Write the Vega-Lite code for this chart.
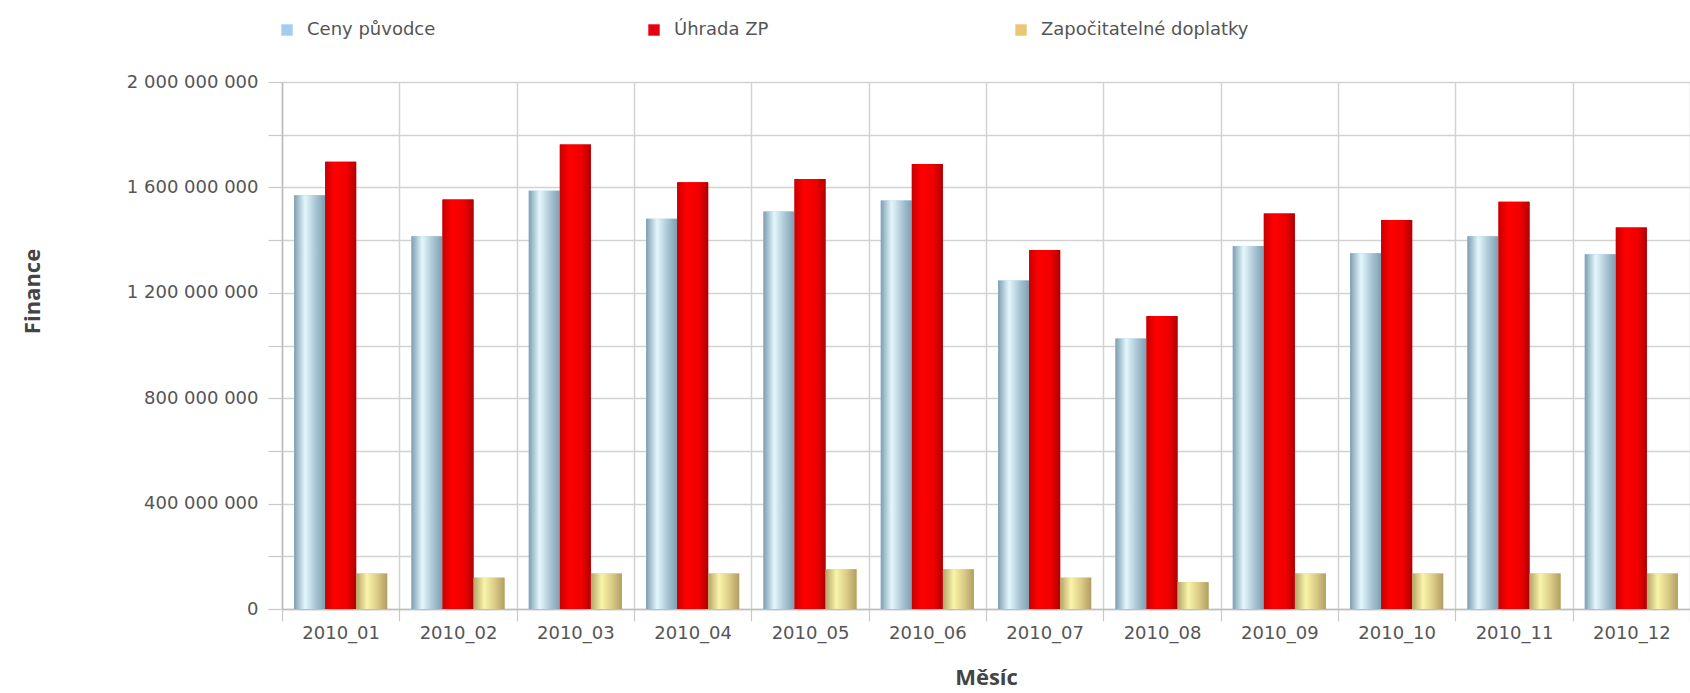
{
  "$schema": "https://vega.github.io/schema/vega-lite/v6.json",
  "autosize": {"type": "none"},
  "padding": {"left": 282, "top": 82, "right": 0, "bottom": 84},
  "width": 1408,
  "height": 527,
  "background": "white",
  "config": {
    "view": {"stroke": null},
    "font": "DejaVu Sans",
    "axis": {"labelFont": "DejaVu Sans", "labelFontSize": 18, "labelColor": "#555", "titleFont": "Open Sans", "titleFontWeight": "bold", "titleFontSize": 22, "titleColor": "#444", "gridColor": "#d2d2d2", "gridWidth": 1.5, "domainColor": "#bdbdbd", "domainWidth": 1.5, "tickColor": "#c8c8c8", "tickWidth": 1.2}
  },
  "data": {
    "values": [
      {"mesic": "2010_01", "serie": "Ceny původce", "hodnota": 1570000000},
      {"mesic": "2010_01", "serie": "Úhrada ZP", "hodnota": 1697000000},
      {"mesic": "2010_01", "serie": "Započitatelné doplatky", "hodnota": 135000000},
      {"mesic": "2010_02", "serie": "Ceny původce", "hodnota": 1415000000},
      {"mesic": "2010_02", "serie": "Úhrada ZP", "hodnota": 1554000000},
      {"mesic": "2010_02", "serie": "Započitatelné doplatky", "hodnota": 119000000},
      {"mesic": "2010_03", "serie": "Ceny původce", "hodnota": 1587000000},
      {"mesic": "2010_03", "serie": "Úhrada ZP", "hodnota": 1763000000},
      {"mesic": "2010_03", "serie": "Započitatelné doplatky", "hodnota": 135000000},
      {"mesic": "2010_04", "serie": "Ceny původce", "hodnota": 1481000000},
      {"mesic": "2010_04", "serie": "Úhrada ZP", "hodnota": 1620000000},
      {"mesic": "2010_04", "serie": "Započitatelné doplatky", "hodnota": 135000000},
      {"mesic": "2010_05", "serie": "Ceny původce", "hodnota": 1509000000},
      {"mesic": "2010_05", "serie": "Úhrada ZP", "hodnota": 1632000000},
      {"mesic": "2010_05", "serie": "Započitatelné doplatky", "hodnota": 151000000},
      {"mesic": "2010_06", "serie": "Ceny původce", "hodnota": 1550000000},
      {"mesic": "2010_06", "serie": "Úhrada ZP", "hodnota": 1689000000},
      {"mesic": "2010_06", "serie": "Započitatelné doplatky", "hodnota": 151000000},
      {"mesic": "2010_07", "serie": "Ceny původce", "hodnota": 1247000000},
      {"mesic": "2010_07", "serie": "Úhrada ZP", "hodnota": 1362000000},
      {"mesic": "2010_07", "serie": "Započitatelné doplatky", "hodnota": 119000000},
      {"mesic": "2010_08", "serie": "Ceny původce", "hodnota": 1027000000},
      {"mesic": "2010_08", "serie": "Úhrada ZP", "hodnota": 1112000000},
      {"mesic": "2010_08", "serie": "Započitatelné doplatky", "hodnota": 102000000},
      {"mesic": "2010_09", "serie": "Ceny původce", "hodnota": 1378000000},
      {"mesic": "2010_09", "serie": "Úhrada ZP", "hodnota": 1501000000},
      {"mesic": "2010_09", "serie": "Započitatelné doplatky", "hodnota": 135000000},
      {"mesic": "2010_10", "serie": "Ceny původce", "hodnota": 1350000000},
      {"mesic": "2010_10", "serie": "Úhrada ZP", "hodnota": 1476000000},
      {"mesic": "2010_10", "serie": "Započitatelné doplatky", "hodnota": 135000000},
      {"mesic": "2010_11", "serie": "Ceny původce", "hodnota": 1415000000},
      {"mesic": "2010_11", "serie": "Úhrada ZP", "hodnota": 1546000000},
      {"mesic": "2010_11", "serie": "Započitatelné doplatky", "hodnota": 135000000},
      {"mesic": "2010_12", "serie": "Ceny původce", "hodnota": 1346000000},
      {"mesic": "2010_12", "serie": "Úhrada ZP", "hodnota": 1448000000},
      {"mesic": "2010_12", "serie": "Započitatelné doplatky", "hodnota": 135000000}
    ]
  },
  "encoding": {
    "x": {"field": "mesic", "type": "nominal", "sort": null,
      "scale": {"paddingInner": 0, "paddingOuter": 0},
      "axis": {"title": "Měsíc", "labelAngle": 0, "tickBand": "extent", "grid": true, "tickSize": 12, "labelPadding": 3, "titleBaseline": "middle", "titleY": 68}},
    "xOffset": {"field": "serie", "type": "nominal",
      "scale": {"domain": ["Ceny původce", "Úhrada ZP", "Započitatelné doplatky"], "paddingInner": 0, "paddingOuter": 0.39}},
    "y": {"field": "hodnota", "type": "quantitative",
      "scale": {"domain": [0, 2000000000], "nice": false},
      "axis": {"title": "Finance", "values": [0, 200000000, 400000000, 600000000, 800000000, 1000000000, 1200000000, 1400000000, 1600000000, 1800000000, 2000000000],
        "labelExpr": "datum.value % 400000000 === 0 ? replace(format(datum.value, ',d'), regexp(',', 'g'), ' ') : ''",
        "tickSize": 14, "labelPadding": 10, "titleX": -250, "titleY": 209, "titleBaseline": "middle", "domain": true}}
  },
  "layer": [
    {
      "mark": {"type": "bar"},
      "encoding": {
        "color": {"field": "serie", "type": "nominal",
          "scale": {"domain": ["Ceny původce", "Úhrada ZP", "Započitatelné doplatky"], "range": ["#a3cdf0", "#e60012", "#e8c874"]},
          "legend": {"title": null, "orient": "none", "direction": "horizontal", "legendX": -4, "legendY": -61, "padding": 0,
            "symbolType": "square", "symbolSize": 130, "symbolStrokeWidth": 0, "labelFont": "DejaVu Sans", "labelFontSize": 18, "labelColor": "#555",
            "labelOffset": 11, "labelLimit": 500, "columnPadding": 130, "gridAlign": "all"}}
      }
    },
    {
      "transform": [{"filter": "datum.serie === 'Ceny původce'"}],
      "mark": {"type": "bar", "fill": {"gradient": "linear", "x1": 0, "y1": 0, "x2": 1, "y2": 0,
        "stops": [{"offset": 0, "color": "#7e9db1"}, {"offset": 0.35, "color": "#e2f7fb"}, {"offset": 0.7, "color": "#a9c5d3"}, {"offset": 1, "color": "#7f9eb2"}]}}
    },
    {
      "transform": [{"filter": "datum.serie === 'Úhrada ZP'"}],
      "mark": {"type": "bar", "fill": {"gradient": "linear", "x1": 0, "y1": 0, "x2": 1, "y2": 0,
        "stops": [{"offset": 0, "color": "#c80000"}, {"offset": 0.3, "color": "#ff0000"}, {"offset": 0.7, "color": "#f00000"}, {"offset": 1, "color": "#b00000"}]}}
    },
    {
      "transform": [{"filter": "datum.serie === 'Započitatelné doplatky'"}],
      "mark": {"type": "bar", "fill": {"gradient": "linear", "x1": 0, "y1": 0, "x2": 1, "y2": 0,
        "stops": [{"offset": 0, "color": "#b5a468"}, {"offset": 0.35, "color": "#f9f4aa"}, {"offset": 0.7, "color": "#d8c985"}, {"offset": 1, "color": "#b09e62"}]}}
    }
  ]
}
